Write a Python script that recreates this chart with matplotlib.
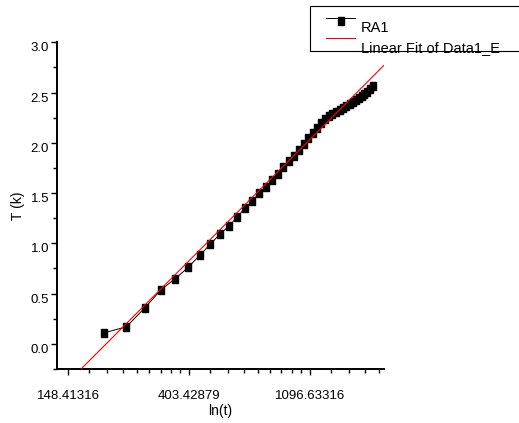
import numpy as np
import matplotlib
matplotlib.use("Agg")
import matplotlib.pyplot as plt
from matplotlib.lines import Line2D
from matplotlib.patches import Rectangle
from matplotlib.ticker import FixedLocator, FixedFormatter, MultipleLocator, NullFormatter

plt.rcParams['font.family'] = ['Liberation Sans', 'DejaVu Sans']

# measured series RA1: time t and temperature rise T
t = [200, 240, 280, 320, 360, 400, 440, 480, 520, 560,
     600, 640, 680, 720, 760, 800, 840, 880, 920, 960,
     1000, 1040, 1080, 1120, 1160, 1200, 1240, 1280, 1320, 1360,
     1400, 1440, 1480, 1520, 1560, 1600, 1640, 1680, 1720, 1760,
     1800, 1840]
T = [0.11, 0.17, 0.36, 0.54, 0.65, 0.76, 0.88, 0.99, 1.09, 1.17,
     1.26, 1.35, 1.42, 1.50, 1.56, 1.63, 1.69, 1.76, 1.82, 1.87,
     1.93, 1.99, 2.05, 2.10, 2.15, 2.20, 2.24, 2.27, 2.29, 2.31,
     2.33, 2.35, 2.37, 2.39, 2.41, 2.43, 2.45, 2.47, 2.49, 2.51,
     2.54, 2.57]

# linear fit T = a*ln(t) + b
fit_slope = 1.2054
fit_intercept = -6.404

x_ticks = [np.exp(5), np.exp(6), np.exp(7)]
x_tick_labels = ["148.41316", "403.42879", "1096.63316"]
y_ticks = [0.0, 0.5, 1.0, 1.5, 2.0, 2.5, 3.0]
y_tick_labels = ["0.0", "0.5", "1.0", "1.5", "2.0", "2.5", "3.0"]

W, H = 519, 423


def fx(px):
    return px / W


def fy(py):
    return 1 - py / H


fig = plt.figure(figsize=(W / 100, H / 100), dpi=100)
ax = fig.add_axes([fx(57), fy(369), (384 - 57) / W, (369 - 42.3) / H])

rect_marker = [(-0.33, -0.5), (0.33, -0.5), (0.33, 0.5), (-0.33, 0.5), (-0.33, -0.5)]

ax.plot(t, T, color='black', lw=0.7, marker=rect_marker, markersize=5.6,
        markerfacecolor='black', markeredgecolor='black', zorder=2)

x_fit = np.array([130.0, 2100.0])
ax.plot(x_fit, fit_slope * np.log(x_fit) + fit_intercept, color='#ff0000', lw=0.8, zorder=3)

ax.set_xscale('log', base=np.e)
ax.set_xlim(135.2, 2022)
ax.set_ylim(-0.25, 3.0)

# Origin-style linear minor ticks between the e^n majors
minor = []
for n in [5, 6, 7]:
    lo, hi = np.exp(n), np.exp(n + 1)
    for k in range(1, 9):
        minor.append(lo + k * (hi - lo) / 9)
ax.xaxis.set_major_locator(FixedLocator(x_ticks))
ax.xaxis.set_major_formatter(FixedFormatter(x_tick_labels))
ax.xaxis.set_minor_locator(FixedLocator(minor))
ax.xaxis.set_minor_formatter(NullFormatter())

ax.yaxis.set_major_locator(FixedLocator(y_ticks))
ax.yaxis.set_major_formatter(FixedFormatter(y_tick_labels))
ax.yaxis.set_minor_locator(MultipleLocator(0.25))

for s in ['top', 'right']:
    ax.spines[s].set_visible(False)
for s in ['left', 'bottom']:
    ax.spines[s].set_linewidth(1.4)

ax.tick_params(which='major', direction='out', length=4.3, width=1.0, labelsize=9.5)
ax.tick_params(which='minor', direction='out', length=2.9, width=1.0)
ax.tick_params(axis='x', which='major', pad=11)
ax.tick_params(axis='y', which='major', pad=1.4)

for lab in ax.get_yticklabels():
    lab.set_verticalalignment('top')

ax.set_xlabel('ln(t)', fontsize=10, va='center')
ax.xaxis.set_label_coords(0.5, (369 - 410.7) / 326.7)
ax.set_ylabel('T (k)', fontsize=10, va='center')
ax.yaxis.set_label_coords((18 - 57) / 327, 0.5)

# legend box drawn Origin-style, running off the right edge
fig.add_artist(Rectangle((fx(310), fy(51)), fx(230), fy(5.7) - fy(51),
                         transform=fig.transFigure, fill=False, edgecolor='black', lw=0.8))
fig.add_artist(Line2D([fx(326), fx(355)], [fy(18.5), fy(18.5)], transform=fig.transFigure,
                      color='black', lw=0.7))
fig.add_artist(Line2D([fx(341)], [fy(21)], transform=fig.transFigure, color='black',
                      marker=rect_marker, markersize=5.6, linestyle='none'))
fig.add_artist(Line2D([fx(326), fx(355)], [fy(38.3), fy(38.3)], transform=fig.transFigure,
                      color='#ff0000', lw=0.8))
fig.text(fx(361), fy(31.5), 'RA1', fontsize=10.5, va='baseline', ha='left')
fig.text(fx(361), fy(52.5), 'Linear Fit of Data1_E', fontsize=10.5, va='baseline', ha='left')

fig.savefig('out.png', dpi=100)
